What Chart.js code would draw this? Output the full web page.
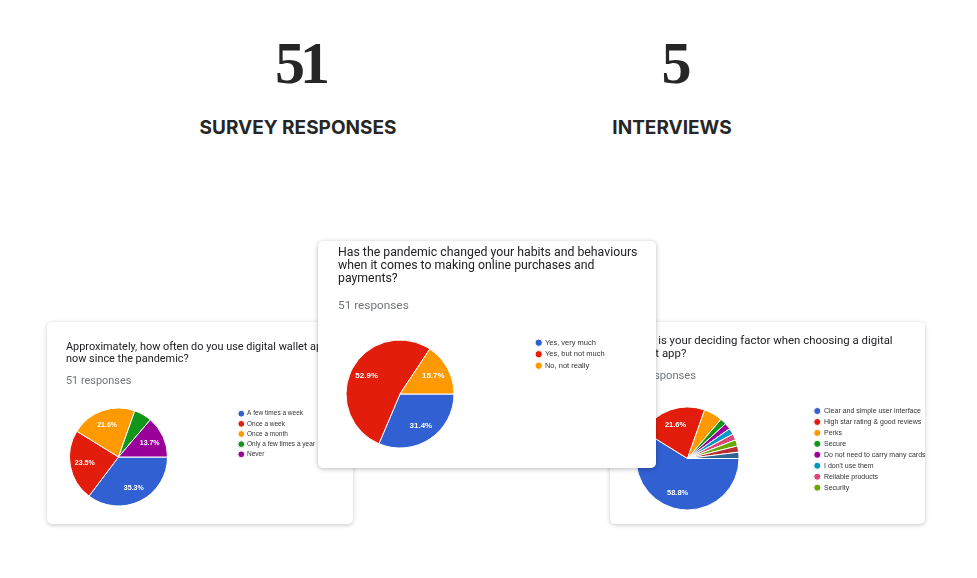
<!DOCTYPE html>
<html><head><meta charset="utf-8">
<script src="https://cdn.jsdelivr.net/npm/chart.js@4.4.1/dist/chart.umd.min.js"></script>
<style>
html,body{margin:0;padding:0;background:#fff;width:977px;height:578px;overflow:hidden;position:relative;font-family:Roboto,"Liberation Sans",sans-serif;}
.num{position:absolute;font-family:"Liberation Serif",serif;font-weight:700;font-size:60px;line-height:1;color:#262626;text-align:center;width:200px;letter-spacing:-5px;}
.lbl{position:absolute;font-family:Inter,sans-serif;font-weight:700;font-size:19px;color:#262626;text-align:center;width:300px;line-height:1;}
.card{position:absolute;background:#fff;border-radius:5px;box-shadow:0 1px 4px rgba(0,0,0,0.22);overflow:hidden;}
.card canvas{position:absolute;left:0;top:0;}
.q{position:absolute;color:#202124;white-space:nowrap;z-index:2;}
.r{position:absolute;color:#70757a;white-space:nowrap;z-index:2;}
</style></head>
<body>
<div class="num" style="left:200px;top:33px;">51</div>
<div class="lbl" style="left:148px;top:118px;">SURVEY RESPONSES</div>
<div class="num" style="left:574px;top:33px;">5</div>
<div class="lbl" style="left:522px;top:118px;">INTERVIEWS</div>

<div class="card" id="card1" style="left:47px;top:322px;width:306px;height:202px;z-index:1;">
  <div class="q" style="left:19px;top:19px;font-size:10.9px;line-height:12px;">Approximately, how often do you use digital wallet apps<br>now since the pandemic?</div>
  <div class="r" style="left:19px;top:53px;font-size:10.9px;line-height:12px;">51 responses</div>
  <canvas id="c1" width="306" height="202"></canvas>
</div>

<div class="card" id="card3" style="left:610px;top:322px;width:315px;height:202px;z-index:1;">
  <div class="q" style="left:19px;top:12px;font-size:11.4px;line-height:12.7px;">What is your deciding factor when choosing a digital<br>wallet app?</div>
  <div class="r" style="left:19px;top:48px;font-size:11.2px;line-height:12px;">51 responses</div>
  <canvas id="c3" width="315" height="202"></canvas>
</div>

<div class="card" id="card2" style="left:318px;top:241px;width:338px;height:227px;z-index:3;box-shadow:0 1px 5px rgba(0,0,0,0.28);">
  <div class="q" style="left:20px;top:5px;font-size:12.3px;line-height:13.2px;">Has the pandemic changed your habits and behaviours<br>when it comes to making online purchases and<br>payments?</div>
  <div class="r" style="left:20px;top:58px;font-size:11.8px;line-height:13px;">51 responses</div>
  <canvas id="c2" width="338" height="227"></canvas>
</div>

<script>
// ---- data ----
const q1Labels = ["A few times a week", "Once a week", "Once a month", "Only a few times a year", "Never"];
const q1Values = [18, 12, 11, 3, 7];

const q2Labels = ["Yes, very much", "Yes, but not much", "No, not really"];
const q2Values = [16, 27, 8];

const q3Labels = ["Clear and simple user interface", "High star rating & good reviews", "Perks", "Secure",
  "Do not need to carry many cards", "I don't use them", "Reliable products", "Security", "Other", "Other (2)"];
const q3Values = [30, 11, 3, 1, 1, 1, 1, 1, 1, 1];
const q3LegendCount = 8;

const palette = ["#3160d2", "#e31d0c", "#ff9900", "#109618", "#990099", "#0099c6", "#dd4477", "#66aa00", "#b82e2e", "#316395"];

// ---- plugins ----
const pctLabels = {
  id: 'pctLabels',
  afterDatasetsDraw(chart, args, opts) {
    const meta = chart.getDatasetMeta(0);
    const data = chart.data.datasets[0].data;
    const total = data.reduce((a, b) => a + b, 0);
    const ctx = chart.ctx;
    ctx.save();
    ctx.fillStyle = '#fff';
    ctx.font = 'bold ' + opts.size + 'px "Liberation Sans", Arial, sans-serif';
    ctx.textAlign = 'center';
    ctx.textBaseline = 'middle';
    meta.data.forEach((arc, i) => {
      const v = data[i] / total;
      if (v < 0.1) return;
      const p = arc.getProps(['x', 'y', 'startAngle', 'endAngle', 'outerRadius'], true);
      const mid = (p.startAngle + p.endAngle) / 2;
      const r = p.outerRadius * opts.factor;
      ctx.fillText((v * 100).toFixed(1) + '%', p.x + Math.cos(mid) * r, p.y + Math.sin(mid) * r);
    });
    ctx.restore();
  }
};

const placeLegend = {
  id: 'placeLegend',
  afterLayout(chart, args, opts) {
    const lg = chart.legend;
    if (!lg) return;
    const lo = chart.options.plugins.legend.labels;
    const pad = lo.padding, bw = lo.boxWidth, fs = lo.font.size;
    lg.left = opts.x - pad - bw / 2;
    lg.right = chart.width;
    lg.top = opts.y - fs / 2 - pad;
    lg.bottom = chart.height;
  }
};

function makePie(id, labels, values, cfg) {
  return new Chart(document.getElementById(id), {
    type: 'pie',
    data: {
      labels: labels,
      datasets: [{
        data: values,
        backgroundColor: palette.slice(0, values.length),
        borderColor: '#ffffff',
        borderWidth: 1,
        hoverOffset: 0,
        offset: 0
      }]
    },
    options: {
      responsive: false,
      animation: false,
      rotation: 90,
      layout: { padding: cfg.padding },
      events: [],
      plugins: {
        tooltip: { enabled: false },
        legend: {
          position: 'right',
          align: 'start',
          maxWidth: 1,
          labels: {
            usePointStyle: true,
            pointStyle: 'circle',
            boxWidth: cfg.bw,
            boxHeight: cfg.bh,
            padding: cfg.pad,
            color: '#333333',
            font: { size: cfg.fs, family: '"Liberation Sans", Arial, sans-serif' },
            filter: (item) => item.index < (cfg.maxItems || 99)
          }
        },
        placeLegend: { x: cfg.lx, y: cfg.ly },
        pctLabels: { size: cfg.ls, factor: 0.7 }
      }
    },
    plugins: [placeLegend, pctLabels]
  });
}

makePie('c1', q1Labels, q1Values, {
  padding: { left: 22, top: 85.5, bottom: 17.5, right: 184 },
  bw: 5, bh: 4.8, pad: 3.65, fs: 6.5, lx: 194.3, ly: 91.7, ls: 7
});
makePie('c2', q2Labels, q2Values, {
  padding: { left: 27.5, top: 98.5, bottom: 19.5, right: 200.5 },
  bw: 5, bh: 5.2, pad: 4, fs: 7.5, lx: 220.7, ly: 101.7, ls: 8
});
makePie('c3', q3Labels, q3Values, {
  padding: { left: 25.5, top: 84.5, bottom: 13.5, right: 184.5 },
  bw: 6.4, bh: 5, pad: 3.95, fs: 7, lx: 207.3, ly: 89, ls: 7.5, maxItems: q3LegendCount
});
</script>
</body></html>
